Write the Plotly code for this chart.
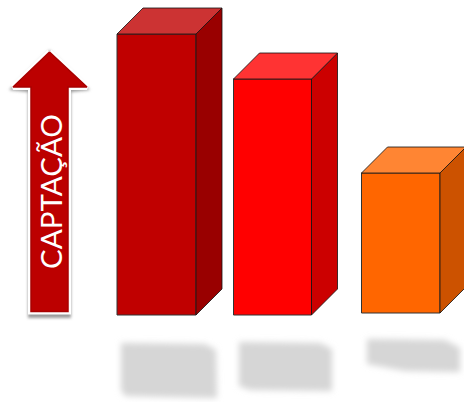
import base64
import plotly.graph_objects as go

# Bars: horizontal position, base level and top level on the y axis
bar_left = [117, 233.5, 361.5]
bar_width = [79, 78, 78.5]
bar_base = [0, 0, 2]
bar_top = [281, 236, 142]
depth = 26

front_colors = ["#C00000", "#FF0000", "#FF6600"]
top_colors = ["#CC3333", "#FF3333", "#FF8533"]
side_colors = ["#990000", "#CC0000", "#CC5200"]

# Axis range: one unit equals one pixel, y = 0 on the common baseline
x_range = [0, 464]
y_range = [-87, 315]

# Arrow outline, in axis units
arrow_x = [49.5, 87, 68, 68, 31, 31, 13, 49.5]
arrow_y = [263, 228, 228, 3.5, 3.5, 228, 228, 263]
arrow_label = "CAPTAÇÃO"

# Blurred grey patches under the bars and the soft shadow of the arrow
soft_svg = """<svg xmlns='http://www.w3.org/2000/svg' width='464' height='402' viewBox='0 0 464 402'>
<defs><filter id='b' x='-20%' y='-20%' width='140%' height='140%'><feGaussianBlur stdDeviation='3.4'/></filter>
<filter id='s' x='-20%' y='-20%' width='140%' height='140%'><feGaussianBlur stdDeviation='1.6'/></filter></defs>
<g fill='#D6D6D6' filter='url(#b)'>
<path d='M121 343 L205 344 L216 350 L217 398 L125 396 L121 390 Z'/>
<path d='M239 342 L320 343 L332 349 L332 391 L250 390 L239 386 Z'/>
<path d='M367 339 L445 340 L460 348 L460 372 L405 371 L367 364 Z'/>
</g>
<path filter='url(#s)' fill='#9A9A9A' d='M49.5 50 L90 90 L71 92 L71 318 L28 318 L28 92 L9 90 Z'/>
</svg>"""
soft_uri = "data:image/svg+xml;base64," + base64.b64encode(soft_svg.encode()).decode()

fig = go.Figure()

# Arrow: white halo first, then the red body on top
fig.add_trace(go.Scatter(x=arrow_x, y=arrow_y, mode="lines", fill="toself",
                         fillcolor="#FFFFFF", line=dict(color="#FFFFFF", width=6)))
fig.add_trace(go.Scatter(x=arrow_x, y=arrow_y, mode="lines", fill="toself",
                         fillcolor="#BC0000", line=dict(color="#A80000", width=1.5)))

# Side and top faces of each box
for left, w, base, top, side_c, top_c in zip(bar_left, bar_width, bar_base, bar_top,
                                             side_colors, top_colors):
    right = left + w
    fig.add_trace(go.Scatter(
        x=[right, right + depth, right + depth, right, right],
        y=[base, base + depth, top + depth, top, base],
        mode="lines", fill="toself", fillcolor=side_c,
        line=dict(color="#111111", width=0.8)))
    fig.add_trace(go.Scatter(
        x=[left, left + depth, right + depth, right, left],
        y=[top, top + depth, top + depth, top, top],
        mode="lines", fill="toself", fillcolor=top_c,
        line=dict(color="#111111", width=0.8)))

# Front faces
fig.add_trace(go.Bar(
    x=[l + w / 2 for l, w in zip(bar_left, bar_width)],
    y=[t - b for t, b in zip(bar_top, bar_base)],
    base=bar_base, width=bar_width,
    marker=dict(color=front_colors, line=dict(color="#333333", width=1))))

fig.add_annotation(x=50, y=123, xref="x", yref="y", text=arrow_label, textangle=-90,
                   showarrow=False, font=dict(family="Lato", size=29.5, color="#FFFFFF"))

fig.update_layout(
    width=464, height=402, margin=dict(l=0, r=0, t=0, b=0),
    paper_bgcolor="#FFFFFF", plot_bgcolor="rgba(0,0,0,0)", showlegend=False,
    xaxis=dict(range=x_range, visible=False, fixedrange=True),
    yaxis=dict(range=y_range, visible=False, fixedrange=True),
    images=[dict(source=soft_uri, xref="x", yref="y", x=0, y=315, sizex=464, sizey=402,
                 xanchor="left", yanchor="top", sizing="stretch", layer="below")],
)

fig.write_html("out.html", config={"displayModeBar": False})
